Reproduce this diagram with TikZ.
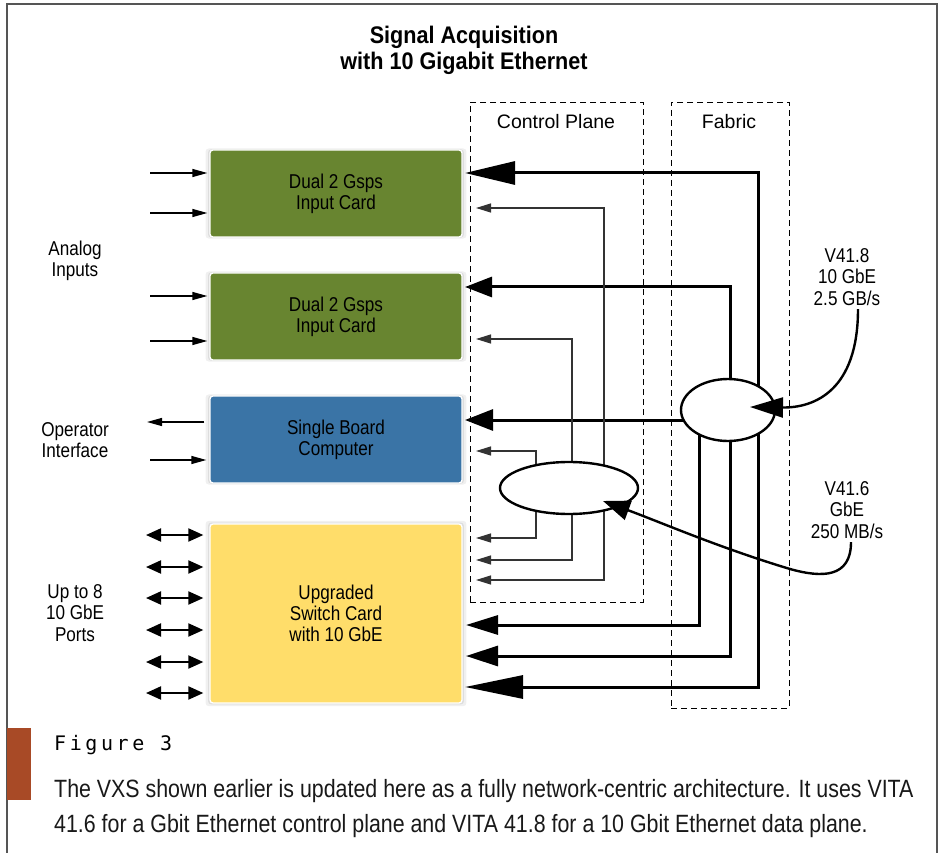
\documentclass[tikz,border=0pt]{standalone}
\usepackage{fontspec}
\setmainfont{Liberation Sans}[FakeStretch=0.855]
\newfontfamily\titlefont{Liberation Sans}[FakeStretch=0.9]
\newfontfamily\widefont{Liberation Sans}
\newfontfamily\figfont{DejaVu Sans Mono}[LetterSpace=18]
\usetikzlibrary{arrows.meta,shapes.geometric,shadows}
\pgfdeclarelayer{paper}
\pgfdeclarelayer{wires}
\pgfsetlayers{paper,wires,main}
\definecolor{cardgreen}{HTML}{688530}
\definecolor{cardblue}{HTML}{3A74A6}
\definecolor{cardyellow}{HTML}{FFDD6A}
\definecolor{barbrown}{HTML}{A84A26}
\definecolor{framegray}{HTML}{555555}
\newcommand{\fs}[2]{\fontsize{#1}{#2}\selectfont}
\tikzset{
  card/.style={rounded corners=3pt, draw=white, line width=1.3pt,
    minimum width=252pt, inner sep=0pt, align=center, text=black,
    font=\fs{20}{21},
    general shadow={fill=black, opacity=0.06, shadow scale=1.035},
    general shadow={fill=black, opacity=0.08, shadow scale=1.015}},
  planebox/.style={draw=black, line width=0.9pt, dash pattern=on 6pt off 4pt,
    inner sep=0pt},
  hub/.style={ellipse, draw=black, line width=2.4pt, fill=white, inner sep=0pt},
  label/.style={align=center, text=black, font=\fs{20}{21.5}},
  fab/.style={line width=3pt, draw=black},
  ctl/.style={line width=1.3pt, draw=black!80, -{Triangle[length=15pt,width=9pt]}},
  inarr/.style={line width=1.3pt, -{Triangle[length=15pt,width=8pt]}},
  port/.style={line width=2pt, {Triangle[length=15pt,width=13pt]}-{Triangle[length=15pt,width=13pt]}},
  link/.style={line width=2.4pt},
}
\begin{document}
\begin{tikzpicture}[x=1pt,y=-1pt]
\useasboundingbox (0,0) rectangle (943,853);
\begin{pgfonlayer}{paper}
\fill[white] (0,0) rectangle (943,853);
\end{pgfonlayer}

% outer frame
\draw[framegray, line width=1.5pt] (7,853) -- (7,4) -- (937,4) -- (937,853);

% title
\node[align=center, font=\titlefont\bfseries\fs{24}{26}] (title) at (464,50)
  {Signal Acquisition\\with 10 Gigabit Ethernet};

% backplane regions
\node[planebox, minimum width=173pt, minimum height=500pt] (cp) at (556.5,352) {};
\node[planebox, minimum width=118pt, minimum height=606pt] (fab) at (730,405) {};
\node[label, font=\widefont\fs{19.5}{21}] (cplab) at (556,122) {Control Plane};
\node[label, font=\widefont\fs{19.5}{21}] (fablab) at (729,122) {Fabric};

% cards
\node[card, fill=cardgreen, minimum height=87pt] (in1) at (336,193.5) {Dual 2 Gsps\\Input Card};
\node[card, fill=cardgreen, minimum height=87pt] (in2) at (336,316.5) {Dual 2 Gsps\\Input Card};
\node[card, fill=cardblue, minimum height=87pt] (sbc) at (336,439.5) {Single Board\\Computer};
\node[card, fill=cardyellow, minimum height=179pt] (sw) at (336,613.5) {Upgraded\\Switch Card\\with 10 GbE};

% switches
\node[hub, minimum width=94pt, minimum height=62pt] (fe) at (728,410) {};
\node[hub, minimum width=138pt, minimum height=52pt] (ce) at (569,488) {};

% side labels
\node[label] (analog) at (75,261) {Analog\\Inputs};
\node[label] (oper) at (75,440) {Operator\\Interface};
\node[label] (ports) at (75,613) {Up to 8\\10 GbE\\Ports};

% rate labels
\node[label] (r8) at (847,277) {V41.8\\10 GbE\\2.5 GB/s};
\node[label] (r6) at (847,510) {V41.6\\GbE\\250 MB/s};

% arrow end points at the card edges
\coordinate (f1) at (465,173);
\coordinate (f2) at (465,287);
\coordinate (f3) at (465,420);
\coordinate (f4) at (466,625);
\coordinate (f5) at (466,656);
\coordinate (f6) at (465,687);
\coordinate (c1) at (476,208);
\coordinate (c2) at (476,339);
\coordinate (c3) at (476,451);
\coordinate (c4) at (476,538);
\coordinate (c5) at (476,560);
\coordinate (c6) at (476,580);

\begin{pgfonlayer}{wires}
% fabric (data plane) links
\draw[fab, -{Triangle[length=50pt,width=23pt]}] ([xshift=30pt]fe.center) |- (f1);
\draw[fab, -{Triangle[length=27pt,width=20pt]}] ([xshift=2pt]fe.center) |- (f2);
\draw[fab, -{Triangle[length=28pt,width=21pt]}] (fe.center |- f3) -- (f3);
\draw[fab, -{Triangle[length=32pt,width=19pt]}] ([xshift=-29pt]fe.center) |- (f4);
\draw[fab, -{Triangle[length=32pt,width=20pt]}] ([xshift=2pt]fe.center) |- (f5);
\draw[fab, -{Triangle[length=58pt,width=23pt]}] ([xshift=30pt]fe.center) |- (f6);
% control plane links
\draw[ctl] ([xshift=35pt]ce.center) |- (c1);
\draw[ctl] ([xshift=3pt]ce.center) |- (c2);
\draw[ctl] ([xshift=-33pt]ce.center) |- (c3);
\draw[ctl] ([xshift=-33pt]ce.center) |- (c4);
\draw[ctl] ([xshift=3pt]ce.center) |- (c5);
\draw[ctl] ([xshift=35pt]ce.center) |- (c6);
\end{pgfonlayer}

% backplane feeds into the switches
\draw[link, -{Triangle[length=33pt,width=20pt]}] ([xshift=11pt]r8.south)
  .. controls (858,390) and (815,408) .. ([xshift=22pt,yshift=3pt]fe.center);
\draw[link, -{Triangle[length=27pt,width=20pt]}] ([xshift=4pt]r6.south)
  .. controls (851,578) and (822,578) .. (790,569)
  .. controls (720,548) and (660,522) .. ([xshift=34pt,yshift=-13pt]ce.center);

% external inputs and outputs
\coordinate (a1) at (150,173);
\coordinate (a2) at (150,213);
\coordinate (a3) at (150,296);
\coordinate (a4) at (150,341);
\coordinate (o1) at (147,422);
\coordinate (o2) at (150,460);
\draw[inarr, shorten >=2pt] (a1) -- (a1 -| in1.west);
\draw[inarr, shorten >=2pt] (a2) -- (a2 -| in1.west);
\draw[inarr, shorten >=2pt] (a3) -- (a3 -| in2.west);
\draw[inarr, shorten >=2pt] (a4) -- (a4 -| in2.west);
\draw[inarr, shorten <=5pt] (o1 -| sbc.west) -- (o1);
\draw[inarr, shorten >=3pt] (o2) -- (o2 -| sbc.west);
\foreach \y [count=\i] in {535,567,598,630,662,693} {
  \coordinate (p\i) at (146,\y);
  \draw[port, shorten >=6pt] (p\i) -- (p\i -| sw.west);
}

% caption
\fill[barbrown] (7,728) rectangle (31,800);
\node[anchor=base west, inner sep=0pt, font=\figfont\fs{20}{20}] (fig) at (54,750) {Figure 3};
\node[anchor=base west, inner sep=0pt, text=black!90, font=\fs{25}{35}] (cap1) at (54,797)
  {The VXS shown earlier is updated here as a fully network-centric architecture. It uses VITA};
\node[anchor=base west, inner sep=0pt, text=black!90, font=\fs{25}{35}] (cap2) at (54,832)
  {41.6 for a Gbit Ethernet control plane and VITA 41.8 for a 10 Gbit Ethernet data plane.};
\end{tikzpicture}
\end{document}
